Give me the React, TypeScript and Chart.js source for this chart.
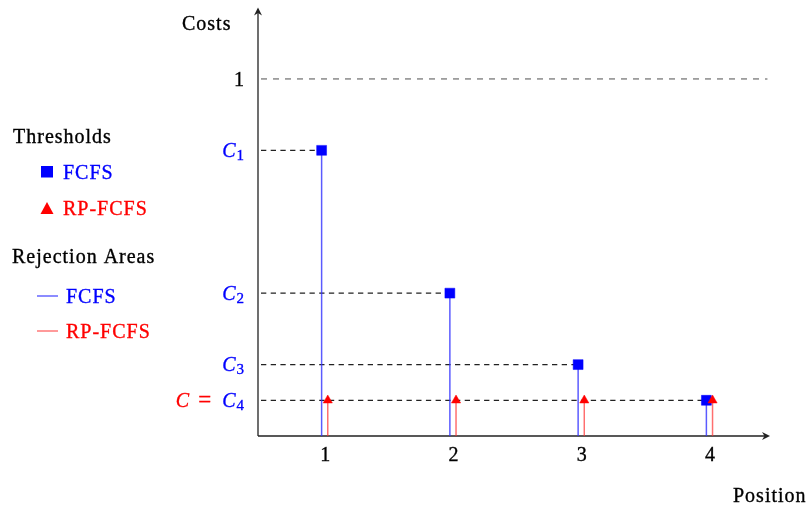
import React, { useEffect, useRef } from "react";
import { Chart, registerables } from "chart.js";
Chart.register(...registerables);

// ---- data ----
const positions = [1, 2, 3, 4];
const xTickLabels = ["1", "2", "3", "4"];
const thresholdsFCFS = [0.8, 0.4, 0.2, 0.1]; // C1..C4
const thresholdsRP = [0.1, 0.1, 0.1, 0.1]; // C = C4
const topLevel = 1;
const yLabelValues = [1, 0.8, 0.4, 0.2, 0.1];
const yLabelTexts = [
  [{ t: "1", kind: "n", c: "#000" }],
  [{ t: "C", kind: "i", c: "#0000ff" }, { t: "1", kind: "s", c: "#0000ff" }],
  [{ t: "C", kind: "i", c: "#0000ff" }, { t: "2", kind: "s", c: "#0000ff" }],
  [{ t: "C", kind: "i", c: "#0000ff" }, { t: "3", kind: "s", c: "#0000ff" }],
  [
    { t: "C", kind: "i", c: "#ff0000" },
    { t: "=", kind: "e", c: "#ff0000" },
    { t: "C", kind: "i", c: "#0000ff" },
    { t: "4", kind: "s", c: "#0000ff" },
  ],
];
const axisTitleY = "Costs";
const axisTitleX = "Position";
const legendTitle1 = "Thresholds";
const legendTitle2 = "Rejection Areas";
const seriesNames = ["FCFS", "RP-FCFS"];

const X_MIN = 0.48;
const X_MAX = 4.472;
const Y_MIN = 0;
const Y_MAX = 1.2;
const SHIFT = 0.024;

const BLUE = "#0000ff";
const RED = "#ff0000";
const BLUE_STEM = "rgba(50,50,255,0.8)";
const RED_STEM = "rgba(255,50,50,0.7)";
const SERIF = '"Liberation Serif", "DejaVu Serif", serif';

function fontFor(kind: string) {
  if (kind === "i") return `italic 20px ${SERIF}`;
  if (kind === "s") return `15px ${SERIF}`;
  if (kind === "e") return `23px ${SERIF}`;
  return `20px ${SERIF}`;
}

function text(ctx: CanvasRenderingContext2D, s: string, x: number, y: number, color: string) {
  ctx.fillStyle = color;
  ctx.strokeStyle = color;
  ctx.lineWidth = 0.35;
  ctx.fillText(s, x, y);
  ctx.strokeText(s, x, y);
}

const overlay = {
  id: "overlay",
  beforeDatasetsDraw(chart: any) {
    const ctx = chart.ctx as CanvasRenderingContext2D;
    const xs = chart.scales.x;
    const ys = chart.scales.y;
    const x0 = xs.getPixelForValue(X_MIN);
    const x1 = xs.getPixelForValue(X_MAX);
    const y0 = ys.getPixelForValue(Y_MIN);
    const y1 = ys.getPixelForValue(Y_MAX);
    ctx.save();
    ctx.strokeStyle = "#222";
    ctx.fillStyle = "#222";
    ctx.lineWidth = 1.3;
    ctx.beginPath();
    ctx.moveTo(x0, y0);
    ctx.lineTo(x1 - 2, y0);
    ctx.moveTo(x0, y0);
    ctx.lineTo(x0, y1 + 2);
    ctx.stroke();
    ctx.beginPath();
    ctx.moveTo(x1, y0);
    ctx.lineTo(x1 - 8, y0 - 4);
    ctx.lineTo(x1 - 5.5, y0);
    ctx.lineTo(x1 - 8, y0 + 4);
    ctx.closePath();
    ctx.fill();
    ctx.beginPath();
    ctx.moveTo(x0, y1);
    ctx.lineTo(x0 - 4, y1 + 8);
    ctx.lineTo(x0, y1 + 5.5);
    ctx.lineTo(x0 + 4, y1 + 8);
    ctx.closePath();
    ctx.fill();
    ctx.restore();
  },
  afterDraw(chart: any) {
    const ctx = chart.ctx as CanvasRenderingContext2D;
    const xs = chart.scales.x;
    const ys = chart.scales.y;
    const y0 = ys.getPixelForValue(Y_MIN);
    ctx.save();
    (ctx as any).letterSpacing = "1px";
    ctx.textBaseline = "alphabetic";
    ctx.font = `20px ${SERIF}`;
    ctx.textAlign = "center";
    positions.forEach((p, i) => {
      text(ctx, xTickLabels[i], xs.getPixelForValue(p) + 1, y0 + 25, "#000");
    });
    ctx.textAlign = "left";
    yLabelValues.forEach((v, i) => {
      const parts = yLabelTexts[i];
      const yPix = ys.getPixelForValue(v);
      let total = 0;
      const widths = parts.map((p) => {
        ctx.font = fontFor(p.kind);
        const w = ctx.measureText(p.t).width + (p.kind === "e" ? 18 : 0);
        total += w;
        return w;
      });
      let x = 245 - total;
      parts.forEach((p, k) => {
        ctx.font = fontFor(p.kind);
        const dx = p.kind === "e" ? 8 : 0;
        const dy = p.kind === "s" ? 3 : p.kind === "e" ? -0.5 : 0;
        text(ctx, p.t, x + dx, yPix + 6.8 + dy, p.c);
        x += widths[k];
      });
    });
    ctx.font = `20px ${SERIF}`;
    text(ctx, axisTitleY, 182, 29.5, "#000");
    text(ctx, axisTitleX, 733, 502, "#000");
    text(ctx, legendTitle1, 13, 142.5, "#000");
    text(ctx, legendTitle2, 12, 263, "#000");
    ctx.fillStyle = BLUE;
    ctx.fillRect(41, 166, 12, 11.5);
    text(ctx, seriesNames[0], 63, 179, BLUE);
    ctx.fillStyle = RED;
    ctx.beginPath();
    ctx.moveTo(47, 202);
    ctx.lineTo(53.5, 214);
    ctx.lineTo(40.5, 214);
    ctx.closePath();
    ctx.fill();
    text(ctx, seriesNames[1], 63, 215, RED);
    ctx.lineWidth = 1.4;
    ctx.strokeStyle = BLUE_STEM;
    ctx.beginPath();
    ctx.moveTo(37, 296);
    ctx.lineTo(58, 296);
    ctx.stroke();
    text(ctx, seriesNames[0], 66, 303, BLUE);
    ctx.lineWidth = 1.4;
    ctx.strokeStyle = RED_STEM;
    ctx.beginPath();
    ctx.moveTo(37, 331);
    ctx.lineTo(58, 331);
    ctx.stroke();
    text(ctx, seriesNames[1], 66, 338, RED);
    ctx.restore();
  },
};

export default function App() {
  const ref = useRef<HTMLCanvasElement | null>(null);
  useEffect(() => {
    document.body.style.margin = "0";
    const canvas = ref.current!;
    const gap = (x: number) => ({ x, y: null as any });

    const guides: any[] = [];
    for (let i = 0; i < positions.length - 1; i++) {
      guides.push({ x: X_MIN, y: thresholdsFCFS[i] }, { x: positions[i] - SHIFT, y: thresholdsFCFS[i] }, gap(X_MIN));
    }
    const lastIdx = positions.length - 1;
    guides.push({ x: X_MIN, y: thresholdsRP[lastIdx] }, { x: positions[lastIdx] + SHIFT, y: thresholdsRP[lastIdx] });

    const blueStems: any[] = [];
    const redStems: any[] = [];
    positions.forEach((p, i) => {
      blueStems.push({ x: p - SHIFT, y: 0 }, { x: p - SHIFT, y: thresholdsFCFS[i] }, gap(p));
      redStems.push({ x: p + SHIFT, y: 0 }, { x: p + SHIFT, y: thresholdsRP[i] }, gap(p));
    });

    const chart = new Chart(canvas, {
      type: "scatter",
      data: {
        datasets: [
          {
            data: [{ x: X_MIN, y: topLevel }, { x: X_MAX - 0.02, y: topLevel }],
            showLine: true,
            borderColor: "#8a8a8a",
            borderWidth: 1.5,
            borderDash: [6, 6],
            borderDashOffset: -3,
            pointRadius: 0,
            order: 10,
          } as any,
          {
            data: guides,
            showLine: true,
            spanGaps: false,
            borderColor: "#222",
            borderWidth: 1.3,
            borderDash: [5.3, 4.4],
            borderDashOffset: -3,
            pointRadius: 0,
            order: 9,
          },
          {
            data: blueStems,
            showLine: true,
            spanGaps: false,
            borderColor: BLUE_STEM,
            borderWidth: 1.5,
            pointRadius: 0,
            order: 8,
          },
          {
            data: redStems,
            showLine: true,
            spanGaps: false,
            borderColor: RED_STEM,
            borderWidth: 1.5,
            pointRadius: 0,
            order: 7,
          },
          {
            data: positions.map((p, i) => ({ x: p - SHIFT, y: thresholdsFCFS[i] })),
            pointStyle: "rect",
            pointRadius: 7,
            borderWidth: 0.5,
            borderColor: BLUE,
            backgroundColor: BLUE,
            order: 2,
          },
          {
            data: positions.map((p, i) => ({ x: p + SHIFT, y: thresholdsRP[i] })),
            pointStyle: "triangle",
            pointRadius: 5.3,
            borderWidth: 0.5,
            borderColor: RED,
            backgroundColor: RED,
            order: 1,
          },
        ],
      },
      options: {
        animation: false,
        responsive: false,
        devicePixelRatio: 1,
        layout: { padding: { left: 258, right: 37, top: 6.5, bottom: 73 } },
        plugins: { legend: { display: false }, tooltip: { enabled: false } },
        events: [],
        scales: {
          x: { type: "linear", min: X_MIN, max: X_MAX, display: false },
          y: { type: "linear", min: Y_MIN, max: Y_MAX, display: false },
        },
      },
      plugins: [overlay],
    });
    return () => chart.destroy();
  }, []);
  return <canvas ref={ref} width={807} height={509} style={{ display: "block", width: 807, height: 509 }} />;
}
